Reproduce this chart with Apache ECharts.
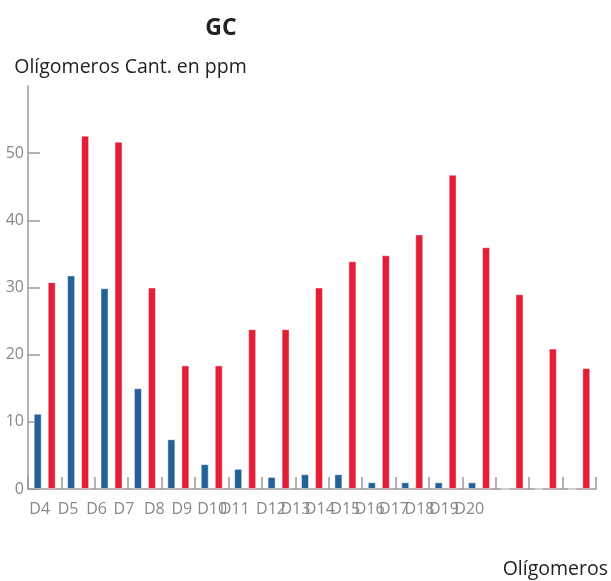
<!DOCTYPE html>
<html>
<head>
<meta charset="utf-8">
<script src="https://cdn.jsdelivr.net/npm/echarts@6/dist/echarts.min.js"></script>
<style>
html,body{margin:0;padding:0;background:#fff;}
#chart{width:611px;height:581px;}
</style>
</head>
<body>
<div id="chart"></div>
<script>
const categories = ['D4','D5','D6','D7','D8','D9','D10','D11','D12','D13','D14','D15','D16','D17','D18','D19','D20'];
const seriesBlue = [11.2, 31.8, 29.9, 15.0, 7.4, 3.7, 3.0, 1.8, 2.2, 2.2, 1.0, 1.0, 1.0, 1.0, 0, 0, 0];
const seriesRed = [30.8, 52.6, 51.7, 30.0, 18.4, 18.4, 23.8, 23.8, 30.0, 33.9, 34.8, 37.9, 46.8, 36.0, 29.0, 20.9, 18.0];
const yTicks = [0, 10, 20, 30, 40, 50, 60];

// horizontal shift (px) of each category label relative to its category centre, as in the reference
const labelShift = [-5, -10, -15, -21, -24, -30, -33, -44, -41, -50, -59, -67, -76, -85, -93, -102, -110];

const FONT = 'Open Sans';
const chart = echarts.init(document.getElementById('chart'), null, {renderer: 'canvas'});
chart.setOption({
  animation: false,
  textStyle: {fontFamily: FONT},
  title: {
    text: 'GC',
    left: 216, top: 12,
    textAlign: 'center',
    textStyle: {fontFamily: FONT, fontSize: 23, fontWeight: 'bold', color: '#222'}
  },
  grid: {left: 28, right: 12, top: 86, bottom: 92, containLabel: false},
  xAxis: {
    type: 'category',
    data: categories.map((c, i) => ({
      value: c,
      textStyle: {padding: [0, -2 * labelShift[i], 0, 0]}
    })),
    name: 'Olígomeros',
    nameLocation: 'end',
    nameGap: 12,
    nameTextStyle: {fontFamily: FONT, fontSize: 19.5, color: '#222', align: 'right', verticalAlign: 'top', padding: [70, 0, 0, 0]},
    axisLine: {lineStyle: {color: '#999', width: 1.5}},
    axisTick: {show: true, inside: true, length: 12, lineStyle: {color: '#999', width: 1.5}},
    axisLabel: {fontFamily: FONT, fontSize: 16, color: '#888', margin: 12, interval: 0}
  },
  yAxis: {
    type: 'value',
    min: yTicks[0], max: yTicks[yTicks.length - 1], interval: yTicks[1] - yTicks[0],
    name: 'Olígomeros Cant. en ppm',
    nameLocation: 'end',
    nameGap: 9,
    nameTextStyle: {fontFamily: FONT, fontSize: 19.5, color: '#222', align: 'center', padding: [0, 0, 0, 205]},
    axisLine: {show: true, lineStyle: {color: '#999', width: 1.5}},
    axisTick: {show: true, inside: true, length: 12, lineStyle: {color: '#999', width: 1.5}},
    axisLabel: {fontFamily: FONT, fontSize: 16, color: '#888', margin: 4, showMaxLabel: false},
    splitLine: {show: false}
  },
  series: [
    {
      type: 'bar', data: seriesBlue,
      barWidth: 8, barGap: '75%',
      itemStyle: {color: '#246196', borderColor: 'rgba(255,255,255,0.45)', borderWidth: 1}
    },
    {
      type: 'bar', data: seriesRed,
      barWidth: 8, barGap: '75%',
      itemStyle: {color: '#e31e37', borderColor: 'rgba(255,255,255,0.45)', borderWidth: 1}
    }
  ]
});
</script>
</body>
</html>
